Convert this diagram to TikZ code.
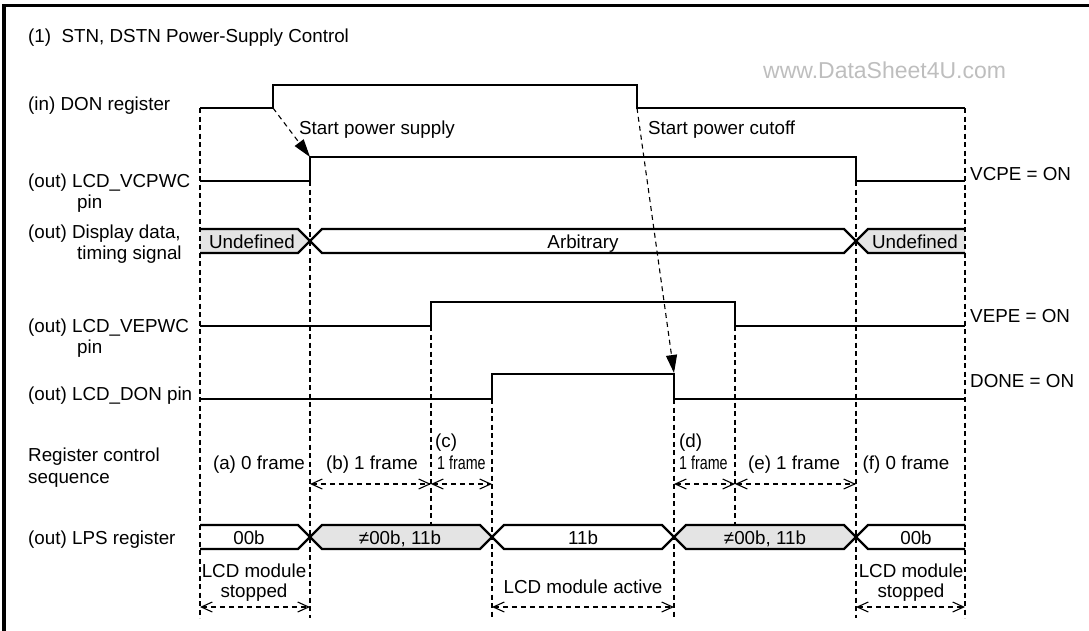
\documentclass[tikz,border=0pt]{standalone}
\usepackage{fontspec}
\setmainfont{Liberation Sans}
\usetikzlibrary{arrows.meta}
\definecolor{busgray}{RGB}{228,228,228}
\definecolor{wmgray}{RGB}{190,190,190}
\begin{document}
\begin{tikzpicture}[x=1pt,y=-1pt,
  txt/.style={font=\fontsize{18.8}{22}\selectfont, inner sep=0pt, anchor=base west},
  ctxt/.style={font=\fontsize{18.8}{22}\selectfont, inner sep=0pt, anchor=base},
  wave/.style={line width=2.4pt, line join=miter},
  busline/.style={line width=2.4pt, line join=miter},
  guide/.style={line width=1.1pt, dash pattern=on 5pt off 3.5pt},
  spanarrow/.style={line width=1.1pt, dash pattern=on 5pt off 4pt,
    {Straight Barb[length=11pt,width=10pt,line width=1.1pt]}-{Straight Barb[length=11pt,width=10pt,line width=1.1pt]}},
  cause/.style={line width=1.1pt, dash pattern=on 5pt off 4pt, -{Triangle[length=18pt,width=11pt]}}
]
\useasboundingbox (0,0) rectangle (1089,630);
% frame (top and left edges)
\draw[line width=3.4pt] (4,632) -- (4,5.5) -- (1092,5.5);

% title and watermark
\node[txt] (title) at (28,42) {(1)\ \ STN, DSTN Power-Supply Control};
\node[font=\fontsize{23}{26}\selectfont, inner sep=0pt, anchor=base west, text=wmgray] (wm) at (763,78) {www.DataSheet4U.com};

% left labels
\node[txt] (lDON) at (28,110) {(in) DON register};
\node[txt] (lVC1) at (28,187) {(out) LCD\_VCPWC};
\node[txt] (lVC2) at (77,208) {pin};
\node[txt] (lDD1) at (28,238) {(out) Display data,};
\node[txt] (lDD2) at (77,259) {timing signal};
\node[txt] (lVE1) at (28,332) {(out) LCD\_VEPWC};
\node[txt] (lVE2) at (77,353) {pin};
\node[txt] (lDP) at (28,400) {(out) LCD\_DON pin};
\node[txt] (lRC1) at (28,461) {Register control};
\node[txt] (lRC2) at (28,483) {sequence};
\node[txt] (lLPS) at (28,544) {(out) LPS register};

% right labels
\node[txt] (rVCPE) at (970,180) {VCPE = ON};
\node[txt] (rVEPE) at (970,322) {VEPE = ON};
\node[txt] (rDONE) at (970,387) {DONE = ON};

% bus fills (drawn first)
\fill[busgray] (200,229) -- (298,229) -- (310,241) -- (298,253) -- (200,253) -- cycle;
\fill[white] (310,241) -- (322,229) -- (844,229) -- (856,241) -- (844,253) -- (322,253) -- cycle;
\fill[busgray] (965,229) -- (868,229) -- (856,241) -- (868,253) -- (965,253) -- cycle;
\fill[white] (200,525) -- (298,525) -- (310,537) -- (298,549) -- (200,549) -- cycle;
\fill[busgray] (310,537) -- (322,525) -- (480,525) -- (492,537) -- (480,549) -- (322,549) -- cycle;
\fill[white] (492,537) -- (504,525) -- (662,525) -- (674,537) -- (662,549) -- (504,549) -- cycle;
\fill[busgray] (674,537) -- (686,525) -- (844,525) -- (856,537) -- (844,549) -- (686,549) -- cycle;
\fill[white] (965,525) -- (868,525) -- (856,537) -- (868,549) -- (965,549) -- cycle;

% vertical guide lines
\draw[guide] (200,108) -- (200,618);
\draw[guide] (310,181) -- (310,618);
\draw[guide] (431,326) -- (431,525);
\draw[guide] (492,399) -- (492,618);
\draw[guide] (674,399) -- (674,618);
\draw[guide] (735,326) -- (735,525);
\draw[guide] (856,181) -- (856,618);
\draw[guide] (965,108) -- (965,618);

% waveforms
\coordinate (donR) at (273,108);
\coordinate (donF) at (637,108);
\coordinate (vcR) at (310,157);
\coordinate (dpF) at (674,373);
\draw[wave] (200,108) -- (273,108) -- (273,85) -- (637,85) -- (637,108) -- (965,108);
\draw[wave] (200,181) -- (310,181) -- (310,157) -- (856,157) -- (856,181) -- (965,181);
\draw[wave] (200,326) -- (431,326) -- (431,302) -- (735,302) -- (735,326) -- (965,326);
\draw[wave] (200,399) -- (492,399) -- (492,374) -- (674,374) -- (674,399) -- (965,399);

% bus outlines
\draw[busline] (200,229) -- (298,229) -- (310,241) -- (298,253) -- (200,253);
\draw[busline] (310,241) -- (322,229) -- (844,229) -- (856,241) -- (844,253) -- (322,253) -- cycle;
\draw[busline] (965,229) -- (868,229) -- (856,241) -- (868,253) -- (965,253);
\draw[busline] (200,525) -- (298,525) -- (310,537) -- (298,549) -- (200,549);
\draw[busline] (310,537) -- (322,525) -- (480,525) -- (492,537) -- (480,549) -- (322,549) -- cycle;
\draw[busline] (492,537) -- (504,525) -- (662,525) -- (674,537) -- (662,549) -- (504,549) -- cycle;
\draw[busline] (674,537) -- (686,525) -- (844,525) -- (856,537) -- (844,549) -- (686,549) -- cycle;
\draw[busline] (965,525) -- (868,525) -- (856,537) -- (868,549) -- (965,549);

% bus texts
\node[ctxt] (und1) at (252,248) {Undefined};
\node[ctxt] (arb) at (583,248) {Arbitrary};
\node[ctxt] (und2) at (915,248) {Undefined};
\node[ctxt] (lps1) at (249,544) {00b};
\node[ctxt] (lps2) at (400,544) {≠00b, 11b};
\node[ctxt] (lps3) at (583,544) {11b};
\node[ctxt] (lps4) at (765,544) {≠00b, 11b};
\node[ctxt] (lps5) at (916,544) {00b};

% cause arrows
\node[txt] (startsup) at (299,134) {Start power supply};
\node[txt] (startcut) at (648,134) {Start power cutoff};
\draw[cause] (donR) -- (vcR);
\draw[cause] (donF) -- (dpF);

% register control sequence
\node[ctxt] (fa) at (259,469) {(a) 0 frame};
\node[ctxt] (fb) at (372,469) {(b) 1 frame};
\node[txt] (fc1) at (435,447) {(c)};
\node[txt] (fc2) at (437,469) {\scalebox{0.76}[1]{1 frame}};
\node[txt] (fd1) at (679,447) {(d)};
\node[txt] (fd2) at (679,469) {\scalebox{0.76}[1]{1 frame}};
\node[ctxt] (fe) at (794,469) {(e) 1 frame};
\node[ctxt] (ff) at (906,469) {(f) 0 frame};
\coordinate (s1) at (310,484);
\coordinate (s2) at (431,484);
\coordinate (s3) at (492,484);
\coordinate (s4) at (674,484);
\coordinate (s5) at (735,484);
\coordinate (s6) at (856,484);
\draw[spanarrow] (s1) -- (s2);
\draw[spanarrow] (s2) -- (s3);
\draw[spanarrow] (s4) -- (s5);
\draw[spanarrow] (s5) -- (s6);

% module state
\node[ctxt] (stop1a) at (254,577) {LCD module};
\node[ctxt] (stop1b) at (254,597) {stopped};
\node[ctxt] (active) at (583,593) {LCD module active};
\node[ctxt] (stop2a) at (911,577) {LCD module};
\node[ctxt] (stop2b) at (911,597) {stopped};
\coordinate (b0) at (200,607);
\coordinate (b1) at (310,607);
\coordinate (b3) at (492,607);
\coordinate (b4) at (674,607);
\coordinate (b6) at (856,607);
\coordinate (b7) at (965,607);
\draw[spanarrow] (b0) -- (b1);
\draw[spanarrow] (b3) -- (b4);
\draw[spanarrow] (b6) -- (b7);
\end{tikzpicture}
\end{document}
